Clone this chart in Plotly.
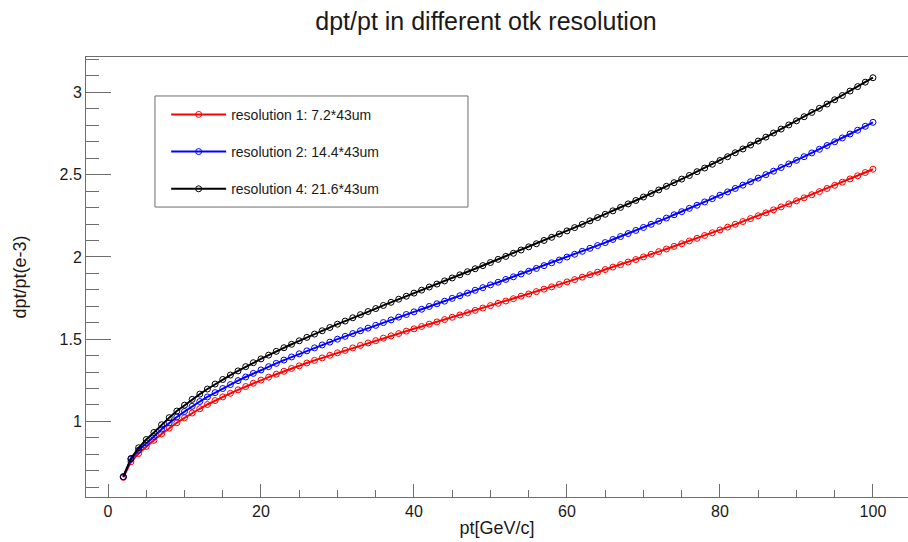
import plotly.graph_objects as go

pt = list(range(2, 101))

res1_red = [0.660, 0.755, 0.805, 0.848, 0.885, 0.924, 0.959, 0.992, 1.022,
            1.051, 1.077, 1.103, 1.127, 1.149, 1.171, 1.192, 1.212, 1.232, 1.251,
            1.269, 1.287, 1.305, 1.322, 1.338, 1.355, 1.371, 1.386, 1.402, 1.417,
            1.432, 1.447, 1.462, 1.477, 1.491, 1.506, 1.520, 1.534, 1.549, 1.563,
            1.577, 1.591, 1.605, 1.619, 1.633, 1.647, 1.661, 1.675, 1.689, 1.704,
            1.718, 1.732, 1.746, 1.761, 1.775, 1.789, 1.804, 1.818, 1.833, 1.848,
            1.862, 1.877, 1.892, 1.907, 1.923, 1.938, 1.953, 1.969, 1.984, 2.000,
            2.016, 2.032, 2.048, 2.064, 2.080, 2.097, 2.113, 2.130, 2.147, 2.164,
            2.181, 2.198, 2.215, 2.233, 2.250, 2.268, 2.286, 2.304, 2.322, 2.341,
            2.359, 2.378, 2.397, 2.416, 2.435, 2.454, 2.474, 2.493, 2.513, 2.533]

res2_blue = [0.664, 0.770, 0.825, 0.870, 0.909, 0.953, 0.991, 1.027, 1.060,
             1.092, 1.121, 1.149, 1.175, 1.200, 1.224, 1.248, 1.270, 1.292, 1.313,
             1.333, 1.353, 1.373, 1.392, 1.411, 1.429, 1.447, 1.465, 1.482, 1.500,
             1.517, 1.534, 1.551, 1.567, 1.584, 1.601, 1.617, 1.634, 1.650, 1.666,
             1.682, 1.699, 1.715, 1.731, 1.748, 1.764, 1.780, 1.797, 1.813, 1.830,
             1.846, 1.863, 1.879, 1.896, 1.913, 1.930, 1.947, 1.964, 1.981, 1.999,
             2.016, 2.034, 2.052, 2.069, 2.087, 2.106, 2.124, 2.142, 2.161, 2.179,
             2.198, 2.217, 2.236, 2.256, 2.275, 2.295, 2.314, 2.334, 2.354, 2.375,
             2.395, 2.416, 2.436, 2.457, 2.479, 2.500, 2.521, 2.543, 2.565, 2.587,
             2.609, 2.632, 2.654, 2.677, 2.700, 2.723, 2.747, 2.770, 2.794, 2.818]

res4_black = [0.664, 0.775, 0.840, 0.890, 0.933, 0.980, 1.023, 1.063, 1.099,
              1.134, 1.166, 1.197, 1.227, 1.255, 1.282, 1.307, 1.333, 1.357, 1.380,
              1.403, 1.426, 1.448, 1.469, 1.490, 1.511, 1.531, 1.551, 1.571, 1.591,
              1.610, 1.630, 1.649, 1.668, 1.686, 1.705, 1.724, 1.743, 1.761, 1.780,
              1.798, 1.817, 1.835, 1.854, 1.872, 1.891, 1.910, 1.928, 1.947, 1.966,
              1.985, 2.003, 2.022, 2.042, 2.061, 2.080, 2.100, 2.119, 2.139, 2.158,
              2.178, 2.198, 2.219, 2.239, 2.259, 2.280, 2.301, 2.322, 2.343, 2.364,
              2.385, 2.407, 2.429, 2.451, 2.473, 2.495, 2.518, 2.540, 2.563, 2.586,
              2.609, 2.633, 2.656, 2.680, 2.704, 2.728, 2.753, 2.777, 2.802, 2.827,
              2.852, 2.878, 2.903, 2.929, 2.955, 2.981, 3.008, 3.035, 3.062, 3.089]

series_names = ["resolution 1: 7.2*43um", "resolution 2: 14.4*43um", "resolution 4: 21.6*43um"]
series_values = [res1_red, res2_blue, res4_black]
series_colors = ["#ff0000", "#0000ff", "#000000"]

x_tickvals = [0, 20, 40, 60, 80, 100]
y_tickvals = [1, 1.5, 2, 2.5, 3]

FONT = "Liberation Sans, Arial, Helvetica, sans-serif"
AXIS_COLOR = "#6e6e6e"

fig = go.Figure()
for i, (name, vals, col) in enumerate(zip(series_names, series_values, series_colors)):
    fig.add_trace(go.Scatter(
        x=pt, y=vals, name=name, mode="lines+markers",
        line=dict(color=col, width=2),
        marker=dict(symbol="circle-open", size=6, color=col, line=dict(width=1, color=col)),
        legendgroup="g%d" % i,
    ))

fig.update_layout(
    width=908, height=542,
    margin=dict(l=86, r=0, t=57, b=45, autoexpand=False),
    paper_bgcolor="white", plot_bgcolor="white",
    font=dict(family=FONT, size=16, color="#1a1a1a"),
    title=dict(text="dpt/pt in different otk resolution", x=486.0 / 908, xanchor="center",
               xref="container", yref="container",
               y=1 - 21.0 / 542, yanchor="middle", font=dict(size=25, color="#1a1a1a"),
               automargin=False),
    showlegend=True,
    legend=dict(x=0.0975, y=0.905, xanchor="left", yanchor="top",
                bgcolor="rgba(0,0,0,0)", borderwidth=0,
                font=dict(size=14, color="#1a1a1a"),
                tracegroupgap=16, traceorder="grouped", itemwidth=55),
    shapes=[dict(type="rect", xref="paper", yref="paper",
                 x0=0.0839, x1=0.4647, y0=0.659, y1=0.9114,
                 line=dict(color=AXIS_COLOR, width=1), fillcolor="white", layer="below")],
)

fig.update_xaxes(
    range=[-2.876, 104.58], showgrid=False, zeroline=False, automargin=False,
    showline=True, linecolor=AXIS_COLOR, linewidth=1, mirror=True,
    ticks="inside", ticklen=13, tickcolor=AXIS_COLOR, tickwidth=1,
    tickvals=x_tickvals, ticktext=[str(v) for v in x_tickvals],
    minor=dict(ticks="inside", ticklen=7, dtick=5, tick0=0, tickcolor=AXIS_COLOR, showgrid=False),
    title=dict(text="pt[GeV/c]", font=dict(size=18), standoff=2),
    tickfont=dict(size=16),
)
fig.update_yaxes(
    range=[0.5407, 3.215], showgrid=False, zeroline=False, automargin=False,
    showline=True, linecolor=AXIS_COLOR, linewidth=1,
    ticks="inside", ticklen=25, tickcolor=AXIS_COLOR, tickwidth=1,
    tickvals=y_tickvals, ticktext=["1", "1.5", "2", "2.5", "3"],
    minor=dict(ticks="inside", ticklen=13, dtick=0.1, tick0=0, tickcolor=AXIS_COLOR, showgrid=False),
    title=dict(text="dpt/pt(e-3)", font=dict(size=18), standoff=28),
    tickfont=dict(size=16),
)

fig.write_html("out.html", post_script="document.body.style.margin='0';",
               config={"displayModeBar": False})
